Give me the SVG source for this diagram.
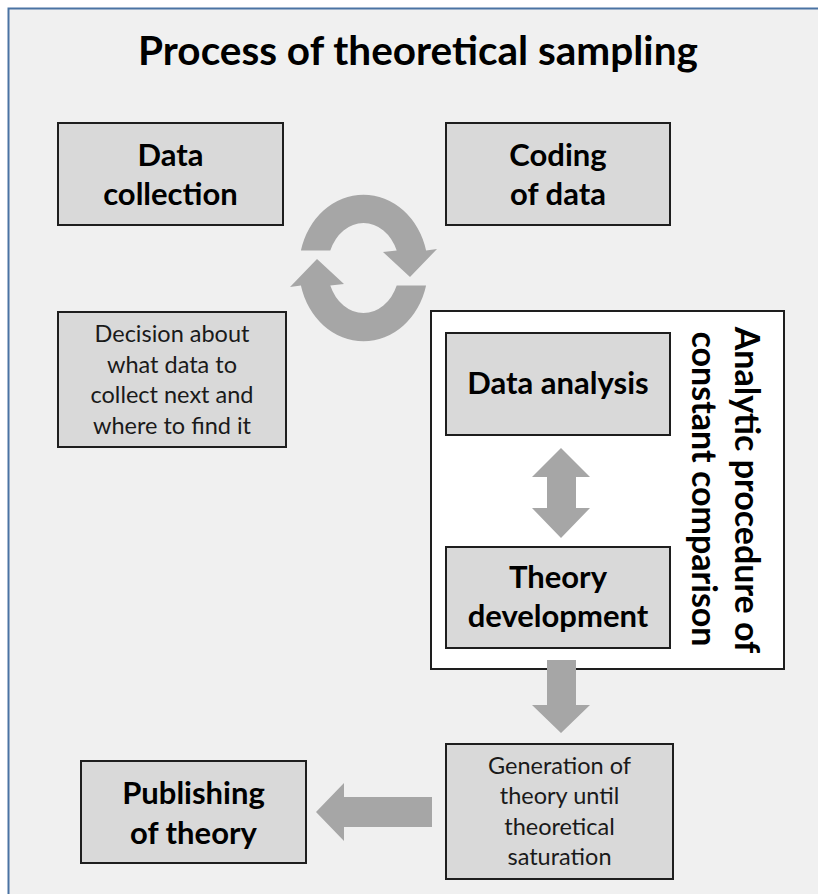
<svg xmlns="http://www.w3.org/2000/svg" width="818" height="894" viewBox="0 0 818 894">
  <style>
    .box { fill: #d9d9d9; stroke: #1e1e1e; stroke-width: 2; }
    .panel { fill: #ffffff; stroke: #1e1e1e; stroke-width: 2; }
    .arrow { fill: #a6a6a6; }
    .title { font-family: Lato, "Open Sans", "Liberation Sans", sans-serif; font-weight: bold; font-size: 40.5px; fill: #000; text-anchor: middle; }
    .head { font-family: Lato, "Open Sans", "Liberation Sans", sans-serif; font-weight: bold; font-size: 31px; fill: #000; text-anchor: middle; }
    .body { font-family: Lato, "Open Sans", "Liberation Sans", sans-serif; font-size: 23.5px; fill: #1a1a1a; text-anchor: middle; }
    .side { font-family: Lato, "Open Sans", "Liberation Sans", sans-serif; font-weight: bold; font-size: 34px; fill: #000; text-anchor: middle; }
  </style>

  <!-- page background and frame -->
  <rect x="0" y="0" width="818" height="894" fill="#ffffff"/>
  <rect x="8.5" y="8.5" width="830" height="900" fill="#f0f0f0" stroke="#4a73a3" stroke-width="2"/>

  <text class="title" x="418" y="65">Process of theoretical sampling</text>

  <g id="data-collection">
    <rect class="box" x="58" y="123" width="225" height="102"/>
    <text class="head" x="170.5" y="166">Data</text>
    <text class="head" x="170.5" y="205">collection</text>
  </g>

  <g id="coding-of-data">
    <rect class="box" x="446" y="123" width="224" height="102"/>
    <text class="head" x="558" y="166">Coding</text>
    <text class="head" x="558" y="205">of data</text>
  </g>

  <g id="decision">
    <rect class="box" x="58" y="312" width="228" height="135"/>
    <text class="body" x="172" y="342">Decision about</text>
    <text class="body" x="172" y="372.5">what data to</text>
    <text class="body" x="172" y="403">collect next and</text>
    <text class="body" x="172" y="433.5">where to find it</text>
  </g>

  <g id="constant-comparison">
    <rect class="panel" x="431" y="311" width="353" height="358"/>
    <text class="side" transform="translate(735,490) rotate(90)">Analytic procedure of</text>
    <text class="side" transform="translate(692,489) rotate(90)">constant comparison</text>
  </g>

  <g id="data-analysis">
    <rect class="box" x="446" y="333" width="224" height="102"/>
    <text class="head" x="558" y="394">Data analysis</text>
  </g>

  <g id="theory-development">
    <rect class="box" x="446" y="547" width="224" height="101"/>
    <text class="head" x="558" y="588">Theory</text>
    <text class="head" x="558" y="627">development</text>
  </g>

  <g id="generation">
    <rect class="box" x="446" y="744" width="227" height="135"/>
    <text class="body" x="559.5" y="773.5">Generation of</text>
    <text class="body" x="559.5" y="804">theory until</text>
    <text class="body" x="559.5" y="834.5">theoretical</text>
    <text class="body" x="559.5" y="865">saturation</text>
  </g>

  <g id="publishing">
    <rect class="box" x="81" y="761" width="225" height="102"/>
    <text class="head" x="193.5" y="804">Publishing</text>
    <text class="head" x="193.5" y="844">of theory</text>
  </g>

  <!-- connectors, drawn over the panel -->
  <g id="connectors">
    <!-- cycle between collection and coding -->
    <path class="arrow" d="M 300.9,250.5 A 64.5 73.5 0 0 1 426.1,250.5 L 437,249 L 410,277 L 383,252 L 396.7,250.5 A 36 45 0 0 0 330.3,250.5 Z"/>
    <path class="arrow" d="M 426.1,285.5 A 64.5 73.5 0 0 1 300.9,285.5 L 290,287 L 317,259 L 344,284 L 330.3,285.5 A 36 45 0 0 0 396.7,285.5 Z"/>
    <!-- analysis <-> development -->
    <path class="arrow" d="M 561,448 L 590,477 L 576,477 L 576,508 L 590,508 L 561,538 L 532,508 L 547,508 L 547,477 L 532,477 Z"/>
    <!-- development -> generation -->
    <path class="arrow" d="M 547,660 L 576,660 L 576,705 L 590,705 L 561,733 L 532,705 L 547,705 Z"/>
    <!-- generation -> publishing -->
    <path class="arrow" d="M 432,797 L 432,827 L 344,827 L 344,841 L 316,812 L 344,783 L 344,797 Z"/>
  </g>
</svg>
